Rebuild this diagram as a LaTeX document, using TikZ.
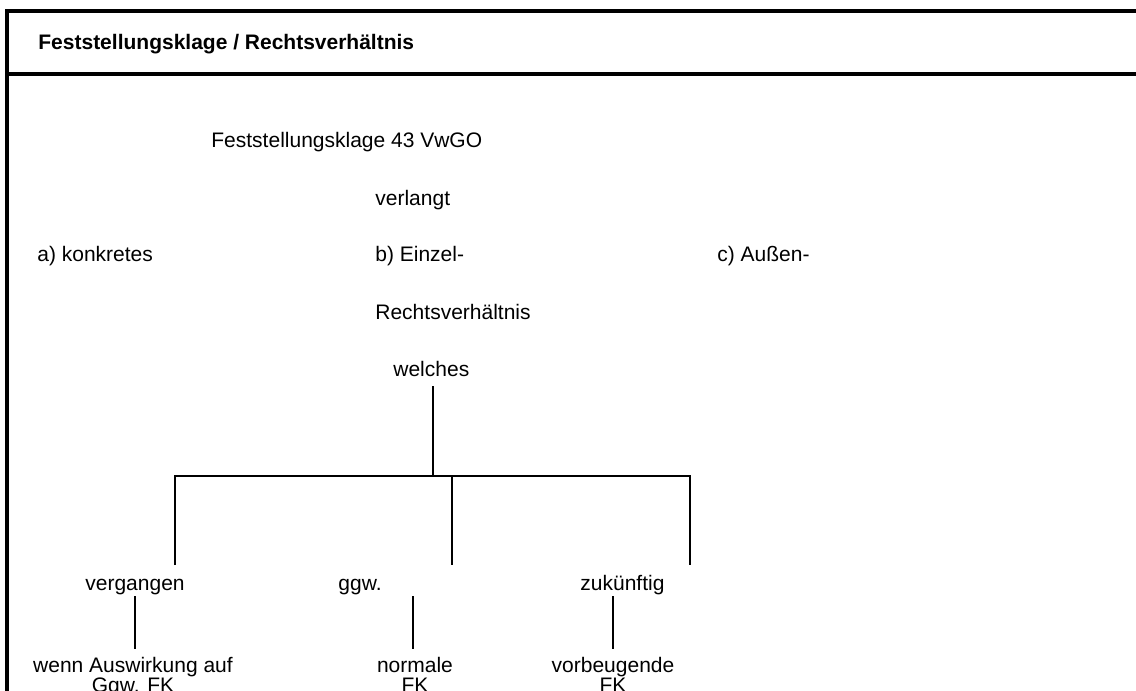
\documentclass[tikz,border=0pt]{standalone}
\usepackage{fontspec}
\setmainfont{Liberation Sans}
\usetikzlibrary{calc}

\begin{document}
\begin{tikzpicture}[x=0.5pt,y=-0.5pt,
  lbl/.style={inner sep=0pt,anchor=base west,font=\fontsize{10.5}{12}\selectfont},
  lblc/.style={inner sep=0pt,anchor=base,align=center,font=\fontsize{10.5}{10}\selectfont},
  frame/.style={line width=1.6pt},
  branch/.style={line width=1pt}]
\useasboundingbox (0,0) rectangle (1136,691);
% Rahmen
\draw[frame] (1136,11) -- (7,11) -- (7,691);
\draw[frame] (7,74) -- (1136,74);
\node[lbl,font=\bfseries\fontsize{10.5}{12}\selectfont] (title) at (38,49) {Feststellungsklage / Rechtsverhältnis};

\node[lbl] (fk) at (211,147) {Feststellungsklage 43 VwGO};
\node[lbl] (verlangt) at (375,205) {verlangt};
\node[lbl] (konkret) at (37,261) {a) konkretes};
\node[lbl] (einzel) at (375,261) {b) Einzel-};
\node[lbl] (aussen) at (717,261) {c) Außen-};
\node[lbl] (rv) at (375,319) {Rechtsverhältnis};
\node[lbl] (welches) at (393,376) {welches};

% Baum
\coordinate (top) at (433,386);
\coordinate (j) at (433,476);
\coordinate (jl) at (175,476);
\coordinate (jr) at (690,476);
\coordinate (jm) at (452,476);
\draw[branch] (top) -- (j);
\draw[branch] (jl |- 0,565) -- (jl) -- (jr) -- (jr |- 0,565);
\draw[branch] (jm) -- (jm |- 0,565);

\node[lbl] (verg) at (85,590) {vergangen};
\node[lbl] (ggw) at (338,590) {ggw.};
\node[lbl] (zuk) at (580,590) {zukünftig};

\node[lblc,anchor=north] (wenn) at (133,657) {wenn Auswirkung auf\\Ggw. FK};
\node[lblc,anchor=north] (normal) at (415,657) {normale\\FK};
\node[lblc,anchor=north] (vorb) at (613,657) {vorbeugende\\FK};

\draw[branch,shorten >=4pt] (135,596) -- (wenn.north -| 135,0);
\draw[branch,shorten >=4pt] (413,596) -- (normal.north -| 413,0);
\draw[branch,shorten >=4pt] (613,596) -- (vorb.north -| 613,0);
\end{tikzpicture}
\end{document}
